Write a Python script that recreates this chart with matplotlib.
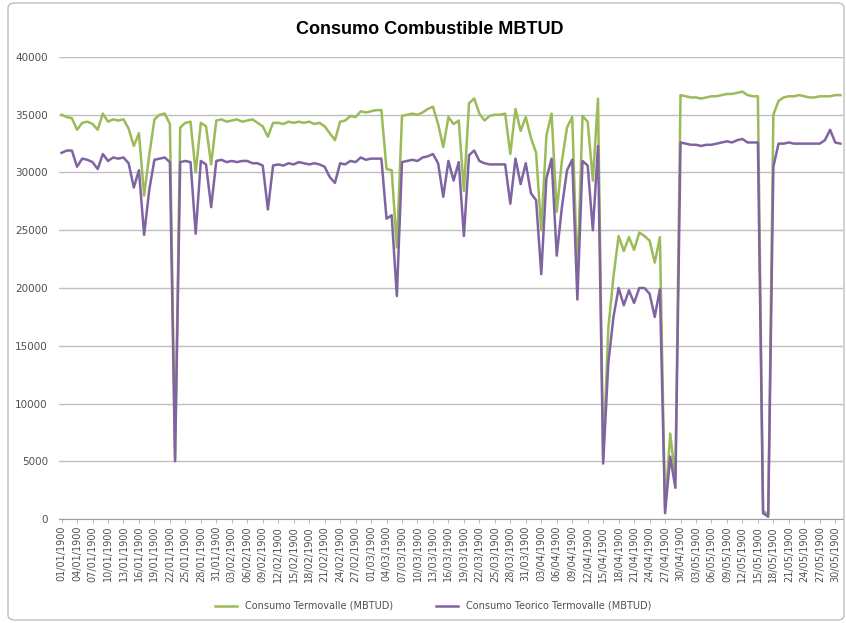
import matplotlib
matplotlib.use("Agg")
import matplotlib.pyplot as plt
from matplotlib.patches import FancyBboxPatch

# Categories: daily dates (Excel 1900 calendar, incl. 29/02/1900)
month_days = [31, 29, 31, 30, 31]
dates = []
for m, nd in enumerate(month_days, start=1):
    for d in range(1, nd + 1):
        dates.append(f"{d:02d}/{m:02d}/1900")

consumo_termovalle = [
    35.0, 34.8, 34.7, 33.7, 34.3, 34.4, 34.2, 33.7, 35.1, 34.4,
    34.6, 34.5, 34.6, 33.8, 32.3, 33.4, 28.0, 31.5, 34.6, 35.0,
    35.1, 34.2, 5.2, 33.9, 34.3, 34.4, 30.0, 34.3, 34.0, 30.7,
    34.5, 34.6, 34.4, 34.5, 34.6, 34.4, 34.5, 34.6, 34.3, 34.0,
    33.1, 34.3, 34.3, 34.2, 34.4, 34.3, 34.4, 34.3, 34.4, 34.2,
    34.3, 34.0, 33.4, 32.8, 34.4, 34.5, 34.9, 34.8, 35.3, 35.2,
    35.3, 35.4, 35.4, 30.3, 30.2, 23.5, 34.9, 35.0, 35.1, 35.0,
    35.2, 35.5, 35.7, 34.2, 32.2, 34.8, 34.2, 34.5, 28.4, 36.0,
    36.4, 35.1, 34.5, 34.9, 35.0, 35.0, 35.1, 31.6, 35.5, 33.6,
    34.8, 33.0, 31.7, 25.0, 33.2, 35.1, 26.6, 31.0, 33.9, 34.8,
    21.0, 34.9, 34.4, 29.3, 36.4, 5.2, 16.5, 21.0, 24.5, 23.2,
    24.4, 23.3, 24.8, 24.5, 24.1, 22.2, 24.4, 0.8, 7.4, 3.5,
    36.7, 36.6, 36.5, 36.5, 36.4, 36.5, 36.6, 36.6, 36.7, 36.8,
    36.8, 36.9, 37.0, 36.7, 36.6, 36.6, 0.7, 0.4, 35.0, 36.2,
    36.5, 36.6, 36.6, 36.7, 36.6, 36.5, 36.5, 36.6, 36.6, 36.6,
    36.7, 36.7,
]
consumo_teorico = [
    31.7, 31.9, 31.9, 30.5, 31.2, 31.1, 30.9, 30.3, 31.6, 31.0,
    31.3, 31.2, 31.3, 30.8, 28.7, 30.2, 24.6, 28.5, 31.1, 31.2,
    31.3, 30.9, 5.0, 30.9, 31.0, 30.9, 24.7, 31.0, 30.7, 27.0,
    31.0, 31.1, 30.9, 31.0, 30.9, 31.0, 31.0, 30.8, 30.8, 30.6,
    26.8, 30.6, 30.7, 30.6, 30.8, 30.7, 30.9, 30.8, 30.7, 30.8,
    30.7, 30.5, 29.6, 29.1, 30.8, 30.7, 31.0, 30.9, 31.3, 31.1,
    31.2, 31.2, 31.2, 26.0, 26.3, 19.3, 30.9, 31.0, 31.1, 31.0,
    31.3, 31.4, 31.6, 30.8, 27.9, 31.0, 29.3, 30.9, 24.5, 31.5,
    31.9, 31.0, 30.8, 30.7, 30.7, 30.7, 30.7, 27.3, 31.2, 29.0,
    30.8, 28.2, 27.6, 21.2, 29.5, 31.2, 22.8, 27.0, 30.2, 31.1,
    19.0, 31.0, 30.6, 25.0, 32.3, 4.8, 13.5, 17.5, 20.0, 18.5,
    19.8, 18.7, 20.0, 20.0, 19.5, 17.5, 19.9, 0.5, 5.4, 2.7,
    32.6, 32.5, 32.4, 32.4, 32.3, 32.4, 32.4, 32.5, 32.6, 32.7,
    32.6, 32.8, 32.9, 32.6, 32.6, 32.6, 0.5, 0.2, 30.5, 32.5,
    32.5, 32.6, 32.5, 32.5, 32.5, 32.5, 32.5, 32.5, 32.8, 33.7,
    32.6, 32.5,
]
# values in thousands of MBTUD -> convert to units
consumo_termovalle = [v * 1000 for v in consumo_termovalle]
consumo_teorico = [v * 1000 for v in consumo_teorico]

y_ticks = [0, 5000, 10000, 15000, 20000, 25000, 30000, 35000, 40000]
title = "Consumo Combustible MBTUD"
label_green = "Consumo Termovalle (MBTUD)"
label_purple = "Consumo Teorico Termovalle (MBTUD)"

W, H = 846, 623
fig = plt.figure(figsize=(W / 100, H / 100), dpi=100)
fig.patch.set_facecolor("white")

# outer chart border
border = FancyBboxPatch((8 / W, 3 / H), (W - 10) / W, (H - 6) / H,
                        boxstyle="round,pad=0,rounding_size=0.008",
                        transform=fig.transFigure, fill=False,
                        edgecolor="#BFBFBF", linewidth=1.0)
fig.patches.append(border)

left, right, top, bottom = 59, 843, 57, 519
ax = fig.add_axes([left / W, 1 - bottom / H, (right - left) / W, (bottom - top) / H])

n = len(consumo_termovalle)
x = list(range(n))
ax.plot(x, consumo_termovalle, color="#9BBB59", lw=1.8, label=label_green, zorder=3)
ax.plot(x, consumo_teorico, color="#8064A2", lw=1.8, label=label_purple, zorder=4)

ax.set_xlim(-0.5, n - 0.5)
ax.set_ylim(0, 40000)
ax.set_yticks(y_ticks)
ax.set_yticklabels([str(v) for v in y_ticks], fontsize=7.5, color="#505050")
ax.yaxis.grid(True, color="#BFBFBF", lw=1.0)
ax.set_axisbelow(True)

tick_idx = list(range(0, n, 3))
ax.set_xticks(tick_idx)
ax.set_xticklabels([dates[i] for i in tick_idx], rotation=90, fontsize=7, color="#505050")
ax.tick_params(axis="y", length=0, pad=8)
ax.tick_params(axis="x", length=3, color="#BFBFBF", pad=2)

for s in ["top", "right", "left"]:
    ax.spines[s].set_visible(False)
ax.spines["bottom"].set_color("#A0A0A0")

fig.text(0.508, 1 - 30 / H, title, ha="center", va="center", fontsize=13,
         fontweight="bold", family="Liberation Sans", color="#000000")

fig.legend(loc="center", bbox_to_anchor=(0.512, 1 - 606 / H), ncol=2, frameon=False,
           fontsize=7, handlelength=2.2, columnspacing=4.5, labelcolor="#505050")

fig.savefig("out.png", dpi=100, facecolor="white")
